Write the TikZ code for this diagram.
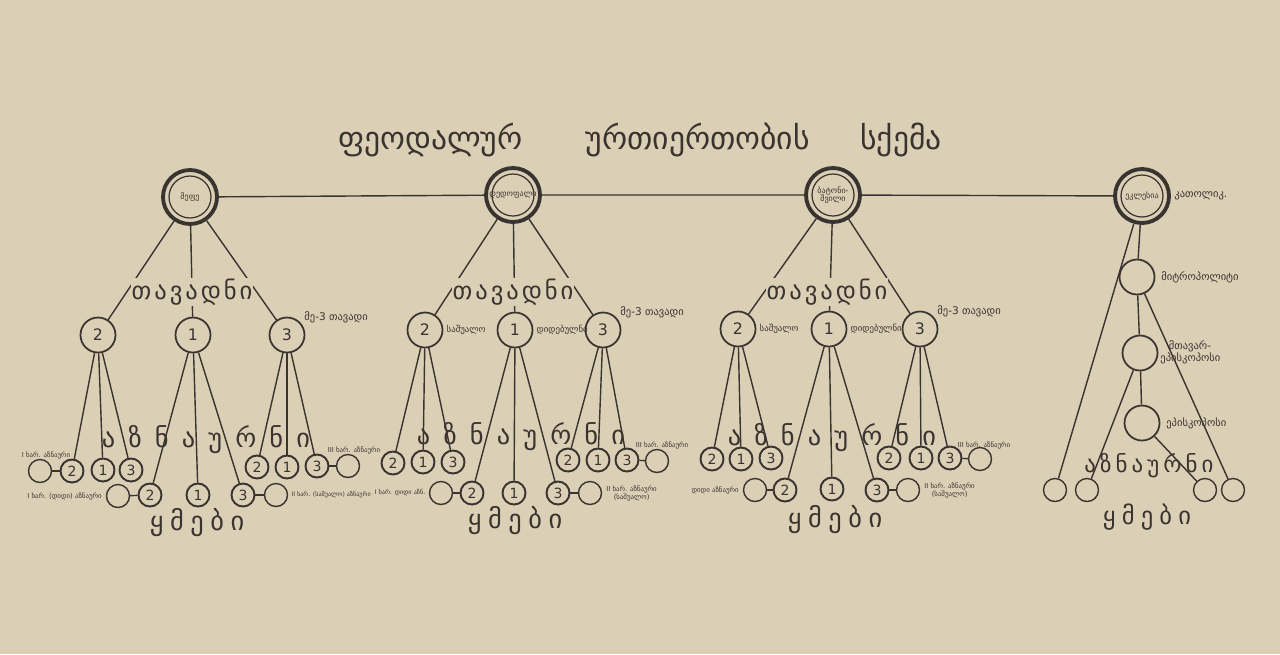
\documentclass[tikz,border=0pt]{standalone}
\usepackage{fontspec}
\setmainfont{DejaVu Sans}
\newfontfamily\aznfont[LetterSpace=50]{DejaVu Sans}
\newfontfamily\tavfont[LetterSpace=12]{DejaVu Sans}
\newfontfamily\ymfont[LetterSpace=25]{DejaVu Sans}
\newfontfamily\churchfont[LetterSpace=18]{DejaVu Sans}
\usetikzlibrary{positioning}
\definecolor{paper}{RGB}{219,208,182}
\definecolor{ink}{RGB}{58,52,48}

\begin{document}
\begin{tikzpicture}[x=0.02cm, y=-0.02cm, ink, line width=0.8pt,
  ruler/.style={circle, draw, line width=2.2pt, minimum size=1.08cm, inner sep=0pt,
    font=\fontsize{4.6}{5}\selectfont, align=center,
    path picture={\draw[line width=0.7pt] (path picture bounding box.center) circle (0.42cm);}},
  rank/.style={circle, draw, line width=1pt, minimum size=0.7cm, inner sep=0pt, font=\fontsize{9}{10}\selectfont},
  vassal/.style={circle, draw, line width=1.1pt, minimum size=0.46cm, inner sep=0pt, font=\fontsize{8}{9}\selectfont},
  free/.style={circle, draw, line width=0.8pt, minimum size=0.46cm, inner sep=0pt},
  note/.style={font=\fontsize{3.9}{4.6}\selectfont, inner sep=1pt, align=center},
  tag/.style={font=\fontsize{6}{7}\selectfont, inner sep=1pt, align=left},
  rowtag/.style={font=\fontsize{5}{6}\selectfont, inner sep=0.5pt},
  estate/.style={inner sep=0.5pt}]
  \useasboundingbox (0,0) rectangle (1280,654);
  \fill[paper] (0,0) rectangle (1280,654);

  \node (title) at (640,140) {\fontsize{18}{22}\selectfont ფეოდალურ\hspace{2em}ურთიერთობის\hspace{1.6em}სქემა};

  \node[ruler] (king) at (190,197) {მეფე};
  \node[ruler] (queen) at (513,195) {დედოფალი};
  \node[ruler] (prince) at (833,195) {ბატონი-\\შვილი};
  \node[ruler] (church) at (1142,196) {ეკლესია};
  \node[tag, anchor=west] (catholicos) at (1172,196) {კათოლიკ.};
  \draw (king) -- (queen) -- (prince) -- (church);

  % king
  \node[rank] (k2) at (98,335) {2};
  \node[rank] (k1) at (193,335) {1};
  \node[rank] (k3) at (287,335) {3};
  \node[tag, anchor=south west] (k3tag) at (302,325) {მე-3 თავადი};
  \node[vassal] (k22) at (72,471) {2};
  \node[vassal] (k21) at (103,470) {1};
  \node[vassal] (k23) at (131,470) {3};
  \node[free] (k2x) at (40,471) {};
  \node[vassal] (k12) at (150,495) {2};
  \node[vassal] (k11) at (198,495) {1};
  \node[vassal] (k13) at (243,495) {3};
  \node[free] (k1x) at (118,496) {};
  \node[free] (k1y) at (276,495) {};
  \node[vassal] (k32) at (257,467) {2};
  \node[vassal] (k31) at (287,467) {1};
  \node[vassal] (k33) at (317,466) {3};
  \node[free] (k3x) at (348,466) {};
  \node[note] (k2note) at (46,455) {I ხარ. აზნაური};
  \node[note, left=1pt of k1x] (k1note) {I ხარ. (დიდი) აზნაური};
  \node[note, right=0.5pt of k1y, font=\fontsize{3.5}{4}\selectfont] (k1ynote) {II ხარ. (საშუალო) აზნაური};
  \node[note] (k3note) at (354,450) {III ხარ. აზნაური};
  \draw (king) -- (k2);
  \draw (king) -- (k1);
  \draw (king) -- (k3);
  \draw (k2) -- (k22); \draw (k2) -- (k21); \draw (k2) -- (k23);
  \draw (k1) -- (k12); \draw (k1) -- (k11); \draw (k1) -- (k13);
  \draw (k3) -- (k32); \draw (k3) -- (k31); \draw (k3) -- (k33);
  \draw (k2x) -- (k22);
  \draw (k1x) -- (k12);
  \draw (k13) -- (k1y);
  \draw (k33) -- (k3x);
  \node[estate, fill=paper] (ktav) at (192,292) {\tavfont\fontsize{14}{16}\selectfont თავადნი};
  \node[estate] (kazn) at (206,440) {\aznfont\fontsize{15}{16}\selectfont აზნაურნი};
  \node[estate] (kym) at (197,523) {\ymfont\fontsize{15}{16}\selectfont ყმები};

  % queen
  \node[rank] (q2) at (425,330) {2};
  \node[rank] (q1) at (515,330) {1};
  \node[rank] (q3) at (603,330) {3};
  \node[rowtag, right=1pt of q2] (q2tag) {საშუალო};
  \node[rowtag, right=1pt of q1] (q1tag) {დიდებულნი};
  \node[tag, anchor=south west] (q3tag) at (618,320) {მე-3 თავადი};
  \node[vassal] (q22) at (393,463) {2};
  \node[vassal] (q21) at (423,462) {1};
  \node[vassal] (q23) at (453,462) {3};
  \node[vassal] (q12) at (472,493) {2};
  \node[vassal] (q11) at (514,493) {1};
  \node[vassal] (q13) at (558,493) {3};
  \node[free] (q1x) at (441,493) {};
  \node[free] (q1y) at (590,493) {};
  \node[vassal] (q32) at (568,460) {2};
  \node[vassal] (q31) at (598,460) {1};
  \node[vassal] (q33) at (627,460) {3};
  \node[free] (q3x) at (657,461) {};
  \node[note, left=0.5pt of q1x, font=\fontsize{3.6}{4.2}\selectfont] (q1note) {I ხარ. დიდი აზნ.};
  \node[note, right=1pt of q1y] (q1ynote) {II ხარ. აზნაური\\(საშუალო)};
  \node[note] (q3note) at (662,445) {III ხარ. აზნაური};
  \draw (queen) -- (q2);
  \draw (queen) -- (q1);
  \draw (queen) -- (q3);
  \draw (q2) -- (q22); \draw (q2) -- (q21); \draw (q2) -- (q23);
  \draw (q1) -- (q12); \draw (q1) -- (q11); \draw (q1) -- (q13);
  \draw (q3) -- (q32); \draw (q3) -- (q31); \draw (q3) -- (q33);
  \draw (q1x) -- (q12);
  \draw (q13) -- (q1y);
  \draw (q33) -- (q3x);
  \node[estate, fill=paper] (qtav) at (513,292) {\tavfont\fontsize{14}{16}\selectfont თავადნი};
  \node[estate] (qazn) at (521,437) {\aznfont\fontsize{15}{16}\selectfont აზნაურნი};
  \node[estate] (qym) at (515,521) {\ymfont\fontsize{15}{16}\selectfont ყმები};

  % prince
  \node[rank] (p2) at (738,329) {2};
  \node[rank] (p1) at (829,329) {1};
  \node[rank] (p3) at (920,329) {3};
  \node[rowtag, right=1pt of p2] (p2tag) {საშუალო};
  \node[rowtag, right=1pt of p1] (p1tag) {დიდებულნი};
  \node[tag, anchor=south west] (p3tag) at (935,319) {მე-3 თავადი};
  \node[vassal] (p22) at (712,459) {2};
  \node[vassal] (p21) at (741,459) {1};
  \node[vassal] (p23) at (771,458) {3};
  \node[vassal] (p12) at (785,490) {2};
  \node[vassal] (p11) at (832,489) {1};
  \node[vassal] (p13) at (877,490) {3};
  \node[free] (p1x) at (755,490) {};
  \node[free] (p1y) at (908,490) {};
  \node[vassal] (p32) at (889,458) {2};
  \node[vassal] (p31) at (921,458) {1};
  \node[vassal] (p33) at (950,458) {3};
  \node[free] (p3x) at (980,459) {};
  \node[note, left=1pt of p1x] (p1note) {დიდი აზნაური};
  \node[note, right=1pt of p1y] (p1ynote) {II ხარ. აზნაური\\(საშუალო)};
  \node[note] (p3note) at (984,445) {III ხარ. აზნაური};
  \draw (prince) -- (p2);
  \draw (prince) -- (p1);
  \draw (prince) -- (p3);
  \draw (p2) -- (p22); \draw (p2) -- (p21); \draw (p2) -- (p23);
  \draw (p1) -- (p12); \draw (p1) -- (p11); \draw (p1) -- (p13);
  \draw (p3) -- (p32); \draw (p3) -- (p31); \draw (p3) -- (p33);
  \draw (p1x) -- (p12);
  \draw (p13) -- (p1y);
  \draw (p33) -- (p3x);
  \node[estate, fill=paper] (ptav) at (827,292) {\tavfont\fontsize{14}{16}\selectfont თავადნი};
  \node[estate] (pazn) at (832,438) {\aznfont\fontsize{15}{16}\selectfont აზნაურნი};
  \node[estate] (pym) at (835,520) {\ymfont\fontsize{15}{16}\selectfont ყმები};

  % church
  \node[rank] (metro) at (1137,277) {};
  \node[rank] (arch) at (1140,353) {};
  \node[rank] (bishop) at (1142,423) {};
  \node[tag, right=2pt of metro] (metrotag) {მიტროპოლიტი};
  \node[tag, anchor=west] (archtag) at (1158,352) {\hspace*{0.8em}მთავარ-\\ეპისკოპოსი};
  \node[tag, right=2pt of bishop] (bishoptag) {ეპისკოპოსი};
  \node[free] (c1) at (1055,490) {};
  \node[free] (c2) at (1087,490) {};
  \node[free] (c3) at (1205,490) {};
  \node[free] (c4) at (1233,490) {};
  \draw (church) -- (metro);
  \draw (church) -- (c1);
  \draw (metro) -- (arch);
  \draw (metro) -- (c4);
  \draw (arch) -- (c2);
  \draw (arch) -- (bishop);
  \draw (bishop) -- (c3);
  \node[estate] (cazn) at (1149,466) {\churchfont\fontsize{13}{14}\selectfont აზნაურნი};
  \node[estate] (cym) at (1147,517) {\ymfont\fontsize{14}{15}\selectfont ყმები};
\end{tikzpicture}
\end{document}
